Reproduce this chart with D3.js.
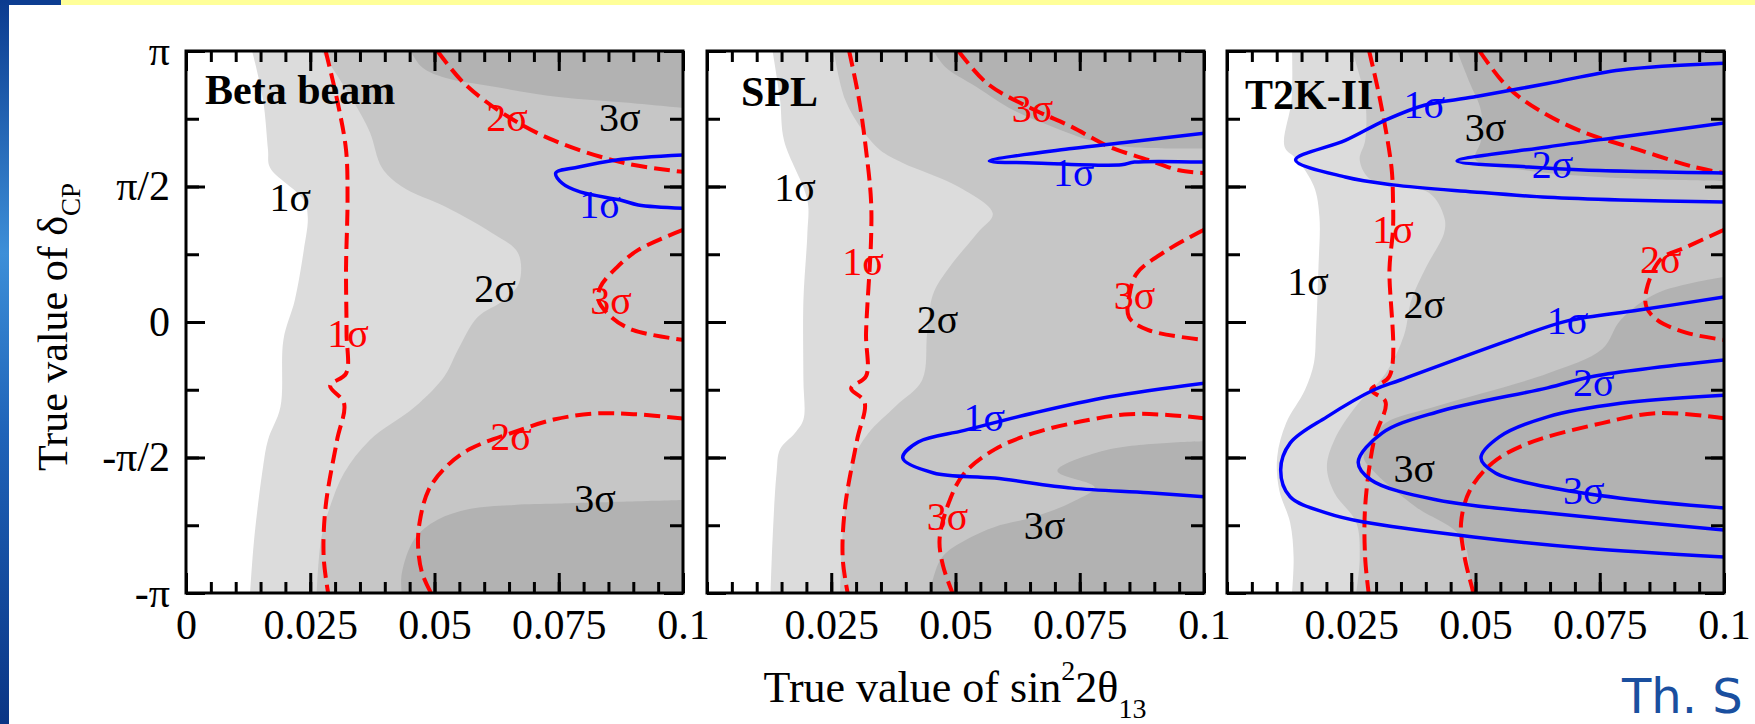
<!DOCTYPE html>
<html>
<head>
<meta charset="utf-8">
<script src="https://cdn.jsdelivr.net/npm/d3@7"></script>
<style>
  body { margin: 0; background: #fff; }
  svg { display: block; }
  text { font-family: "Liberation Serif", "Times New Roman", serif; }
</style>
</head>
<body>
<div id="chart"></div>
<script>
// ---- data (x = sin^2 2θ13, d = δCP / π) ----
const panelNames = ["Beta beam", "SPL", "T2K-II"];
const xTicks = [0, 0.025, 0.05, 0.075, 0.1];
const xTickLabels = ["0", "0.025", "0.05", "0.075", "0.1"];
const yTicks = [-1, -0.5, 0, 0.5, 1];
const yTickLabels = ["-π", "-π/2", "0", "π/2", "π"];

// Beta beam: shaded borders (top -> bottom)
const betaShade1 = [[0.0133,1],[0.0155,0.82],[0.0165,0.635],[0.0169,0.57],[0.0237,0.45],[0.0245,0.387],[0.0237,0.266],[0.0219,0.081],[0.0196,-0.066],[0.019,-0.314],[0.0165,-0.435],[0.0155,-0.535],[0.0137,-0.804],[0.0129,-1]];
const betaShade2 = [[0.0272,1],[0.0335,0.82],[0.037,0.70],[0.0394,0.57],[0.0434,0.5],[0.0523,0.424],[0.0614,0.33],[0.0668,0.255],[0.067,0.144],[0.064,0.081],[0.0587,0.018],[0.0548,-0.1],[0.052,-0.2],[0.046,-0.314],[0.037,-0.435],[0.0318,-0.557],[0.029,-0.68],[0.0272,-0.80],[0.0263,-1]];
const betaDarkTop = [[0.0452,1],[0.0475,0.94],[0.0523,0.90],[0.0614,0.87],[0.075,0.83],[0.0883,0.81],[0.1,0.79]];
const betaDarkBottom = [[0.1,-0.657],[0.075,-0.67],[0.066,-0.675],[0.057,-0.69],[0.0506,-0.73],[0.046,-0.80],[0.0434,-0.93],[0.0434,-1]];
const betaRed = [
  [[0.0281,1],[0.0304,0.82],[0.0322,0.635],[0.0325,0.45],[0.0322,0.2],[0.0323,-0.04],[0.0322,-0.19],[0.029,-0.235],[0.0318,-0.30],[0.0304,-0.435],[0.0281,-0.68],[0.0277,-0.867],[0.0286,-1]],
  [[0.0506,1],[0.056,0.88],[0.0646,0.76],[0.074,0.67],[0.0883,0.586],[0.1,0.554]],
  [[0.1,0.34],[0.091,0.266],[0.0866,0.2],[0.0834,0.13],[0.083,0.08],[0.0856,0.018],[0.09,-0.03],[0.1,-0.066]],
  [[0.1,-0.356],[0.09,-0.34],[0.082,-0.338],[0.074,-0.36],[0.0654,-0.41],[0.057,-0.47],[0.0523,-0.535],[0.0488,-0.62],[0.047,-0.74],[0.0467,-0.83],[0.0475,-0.926],[0.0493,-1]]
];
const betaBlue = [
  [[0.1,0.616],[0.0866,0.598],[0.079,0.572],[0.0744,0.55],[0.0757,0.512],[0.0793,0.48],[0.0874,0.45],[0.091,0.432],[0.1,0.42]]
];
const betaLabels = [
  ["1σ",0.021,0.46,"region"],["2σ",0.0622,0.125,"region"],["3σ",0.0873,0.755,"region"],["3σ",0.0823,-0.65,"region"],
  ["1σ",0.0326,-0.044,"red"],["2σ",0.0646,0.755,"red"],["3σ",0.0855,0.08,"red"],["2σ",0.0654,-0.424,"red"],
  ["1σ",0.0833,0.435,"blue"]
];

// SPL
const splShade1 = [[0.0132,1],[0.0147,0.82],[0.0155,0.67],[0.0202,0.45],[0.0202,0.33],[0.0194,0.08],[0.0194,-0.214],[0.0194,-0.36],[0.0177,-0.41],[0.0147,-0.47],[0.014,-0.557],[0.0132,-0.80],[0.0128,-1]];
const splShade2 = [[0.0255,1],[0.0278,0.82],[0.0316,0.70],[0.0348,0.635],[0.0394,0.587],[0.0505,0.5],[0.0575,0.40],[0.0545,0.33],[0.0487,0.2],[0.0455,0.103],[0.0443,-0.04],[0.0433,-0.214],[0.038,-0.31],[0.0325,-0.41],[0.0294,-0.51],[0.0278,-0.68],[0.027,-0.87],[0.0268,-1]];
const splDarkTop = [[0.0456,1],[0.048,0.94],[0.054,0.87],[0.0618,0.78],[0.0696,0.72],[0.0772,0.67],[0.0849,0.646],[0.1,0.64]];
const splDarkBottom = [[0.1,-0.44],[0.081,-0.47],[0.0705,-0.55],[0.078,-0.61],[0.074,-0.66],[0.0657,-0.72],[0.0579,-0.756],[0.0525,-0.80],[0.0472,-0.87],[0.0448,-1]];
const splRed = [
  [[0.0286,1],[0.0306,0.82],[0.032,0.635],[0.033,0.45],[0.033,0.3],[0.032,-0.04],[0.032,-0.2],[0.029,-0.245],[0.0317,-0.295],[0.0302,-0.435],[0.0278,-0.68],[0.0273,-0.87],[0.0283,-1]],
  [[0.0506,1],[0.0564,0.88],[0.0655,0.786],[0.0734,0.72],[0.081,0.646],[0.0888,0.598],[0.095,0.56],[0.1,0.55]],
  [[0.1,0.34],[0.0927,0.266],[0.0865,0.18],[0.085,0.1],[0.0849,0.018],[0.0888,-0.03],[0.1,-0.066]],
  [[0.1,-0.355],[0.0927,-0.343],[0.0849,-0.34],[0.0772,-0.36],[0.0657,-0.41],[0.0579,-0.47],[0.0518,-0.557],[0.049,-0.65],[0.0468,-0.80],[0.0475,-0.90],[0.0494,-1]]
];
const splBlue = [
  [[0.1,0.697],[0.0849,0.664],[0.0734,0.64],[0.0568,0.594],[0.0657,0.587],[0.0834,0.58],[0.086,0.59],[0.1,0.59]],
  [[0.1,-0.226],[0.081,-0.276],[0.0657,-0.336],[0.0518,-0.4],[0.0425,-0.443],[0.0394,-0.502],[0.0456,-0.557],[0.0579,-0.576],[0.0734,-0.613],[0.0888,-0.63],[0.1,-0.645]]
];
const splLabels = [
  ["1σ",0.0177,0.495,"region"],["2σ",0.0464,0.01,"region"],["3σ",0.0679,-0.75,"region"],
  ["3σ",0.0655,0.786,"red"],["1σ",0.0314,0.225,"red"],["3σ",0.086,0.096,"red"],["3σ",0.0484,-0.716,"red"],
  ["1σ",0.0738,0.553,"blue"],["1σ",0.0558,-0.354,"blue"]
];

// T2K-II
const t2kShade1 = [[0.0131,1],[0.013,0.82],[0.0116,0.646],[0.0141,0.6],[0.0175,0.5],[0.0186,0.387],[0.0184,0.2],[0.0179,-0.04],[0.0175,-0.15],[0.0157,-0.25],[0.0119,-0.373],[0.0101,-0.498],[0.0105,-0.62],[0.0127,-0.74],[0.0134,-0.867],[0.0131,-1]];
const t2kShade2 = [[0.0252,1],[0.0278,0.82],[0.0278,0.67],[0.0267,0.598],[0.029,0.524],[0.0407,0.476],[0.0437,0.387],[0.0437,0.33],[0.04,0.2],[0.0371,0.081],[0.0356,-0.05],[0.0319,-0.19],[0.026,-0.31],[0.0216,-0.435],[0.0201,-0.535],[0.0216,-0.63],[0.026,-0.74],[0.0267,-0.87],[0.026,-1]];
const t2kDarkTop = [[0.0463,1],[0.0489,0.88],[0.0511,0.78],[0.0511,0.67],[0.05,0.6],[0.06,0.56],[0.08,0.53],[0.1,0.52]];
const t2kDarkBottom = [[0.1,0.166],[0.0866,0.107],[0.0792,0.007],[0.0755,-0.1],[0.0645,-0.19],[0.0423,-0.31],[0.0319,-0.373],[0.029,-0.44],[0.0275,-0.5],[0.03,-0.56],[0.0378,-0.68],[0.0474,-0.80],[0.0489,-1]];
const t2kRed = [
  [[0.0286,1],[0.0308,0.82],[0.0331,0.57],[0.0334,0.45],[0.0334,0.343],[0.0327,0.2],[0.0327,-0.2],[0.029,-0.25],[0.0319,-0.295],[0.0296,-0.435],[0.0278,-0.68],[0.0278,-0.87],[0.0285,-1]],
  [[0.0508,1],[0.0563,0.87],[0.0629,0.78],[0.0718,0.70],[0.0829,0.635],[0.094,0.572],[0.1,0.55]],
  [[0.1,0.34],[0.0925,0.277],[0.0873,0.232],[0.0844,0.118],[0.0844,0.055],[0.0866,0.007],[0.0925,-0.04],[0.1,-0.066]],
  [[0.1,-0.355],[0.0866,-0.336],[0.0755,-0.373],[0.0607,-0.447],[0.0534,-0.52],[0.0489,-0.62],[0.0471,-0.74],[0.0478,-0.867],[0.0496,-1]]
];
const t2kBlue = [
  [[0.1,0.955],[0.0792,0.93],[0.0645,0.88],[0.0496,0.83],[0.0397,0.8],[0.0319,0.745],[0.0238,0.67],[0.0138,0.598],[0.0238,0.535],[0.0334,0.506],[0.0496,0.48],[0.0645,0.46],[0.0792,0.45],[0.1,0.443]],
  [[0.1,0.734],[0.0792,0.683],[0.0645,0.646],[0.0463,0.594],[0.0607,0.572],[0.0718,0.561],[0.1,0.55]],
  [[0.1,0.092],[0.0829,0.044],[0.0685,0.004],[0.057,-0.066],[0.0349,-0.214],[0.0296,-0.25],[0.0201,-0.35],[0.0127,-0.447],[0.0108,-0.546],[0.0127,-0.645],[0.0201,-0.705],[0.0275,-0.738],[0.0496,-0.793],[0.0718,-0.834],[0.1,-0.867]],
  [[0.1,-0.14],[0.0738,-0.2],[0.0645,-0.243],[0.0423,-0.332],[0.0312,-0.41],[0.0264,-0.517],[0.029,-0.583],[0.0423,-0.657],[0.0645,-0.705],[0.1,-0.768]],
  [[0.1,-0.27],[0.0792,-0.3],[0.0645,-0.35],[0.0548,-0.424],[0.0511,-0.502],[0.054,-0.557],[0.0645,-0.609],[0.0792,-0.65],[0.1,-0.686]]
];
const t2kLabels = [
  ["1σ",0.0163,0.148,"region"],["3σ",0.052,0.716,"region"],["2σ",0.0397,0.066,"region"],["3σ",0.0377,-0.54,"region"],
  ["1σ",0.0334,0.343,"red"],["2σ",0.0873,0.232,"red"],
  ["1σ",0.0397,0.804,"blue"],["2σ",0.0655,0.58,"blue"],["1σ",0.0685,0.004,"blue"],["2σ",0.0738,-0.225,"blue"],["3σ",0.0718,-0.62,"blue"]
];

// ---- layout ----
const width = 1755, height = 724;
const panelLeft = [186, 707, 1227], pw = 497, plotTop = 51, ph = 542;
const shadeColors = ["#dcdcdc", "#c6c6c6", "#b2b2b2"];
const labelColors = {region: "#000", red: "#ff0000", blue: "#0000ff"};

const svg = d3.select("#chart").append("svg")
    .attr("width", width)
    .attr("height", height);

// slide decoration
const defs = svg.append("defs");
const grad = defs.append("linearGradient").attr("id", "strip").attr("x1", 0).attr("y1", 0).attr("x2", 0).attr("y2", 1);
grad.append("stop").attr("offset", "0%").attr("stop-color", "#0b3b8f");
grad.append("stop").attr("offset", "35%").attr("stop-color", "#3d8fd8");
grad.append("stop").attr("offset", "60%").attr("stop-color", "#1f63b8");
grad.append("stop").attr("offset", "100%").attr("stop-color", "#0a3585");
svg.append("rect").attr("x", 61).attr("y", 0).attr("width", width - 61).attr("height", 5).attr("fill", "#ffff99");
svg.append("rect").attr("x", 0).attr("y", 0).attr("width", 61).attr("height", 5).attr("fill", "#0d3d91");
svg.append("rect").attr("x", 0).attr("y", 0).attr("width", 9).attr("height", height).attr("fill", "url(#strip)");

const panels = [
  {shade1: betaShade1, shade2: betaShade2, darkTop: betaDarkTop, darkBottom: betaDarkBottom, red: betaRed, blue: betaBlue, labels: betaLabels, titleDx: 19, titleY: 104},
  {shade1: splShade1, shade2: splShade2, darkTop: splDarkTop, darkBottom: splDarkBottom, red: splRed, blue: splBlue, labels: splLabels, titleDx: 34, titleY: 106},
  {shade1: t2kShade1, shade2: t2kShade2, darkTop: t2kDarkTop, darkBottom: t2kDarkBottom, red: t2kRed, blue: t2kBlue, labels: t2kLabels, titleDx: 18, titleY: 109}
];

panels.forEach((p, i) => {
    const x = d3.scaleLinear().domain([0, 0.1]).range([panelLeft[i], panelLeft[i] + pw]);
    const y = d3.scaleLinear().domain([-1, 1]).range([plotTop + ph, plotTop]);
    const line = d3.line().x(d => x(d[0])).y(d => y(d[1])).curve(d3.curveCatmullRom.alpha(0.5));
    const close = corners => corners.map(c => `L${x(c[0])},${y(c[1])}`).join("") + "Z";

    defs.append("clipPath").attr("id", "clip" + i)
        .append("rect").attr("x", x(0)).attr("y", y(1)).attr("width", pw).attr("height", ph);

    const g = svg.append("g").attr("clip-path", `url(#clip${i})`);
    g.append("rect").attr("x", x(0)).attr("y", y(1)).attr("width", pw).attr("height", ph).attr("fill", "#fff");

    // shaded regions
    g.append("path").attr("d", line(p.shade1) + close([[0.1, -1], [0.1, 1]])).attr("fill", shadeColors[0]);
    g.append("path").attr("d", line(p.shade2) + close([[0.1, -1], [0.1, 1]])).attr("fill", shadeColors[1]);
    g.append("path").attr("d", line(p.darkTop) + close([[0.1, 1]])).attr("fill", shadeColors[2]);
    g.append("path").attr("d", line(p.darkBottom) + close([[0.1, -1]])).attr("fill", shadeColors[2]);

    // contour lines
    g.selectAll(".red").data(p.red).join("path")
        .attr("class", "red")
        .attr("d", line)
        .attr("fill", "none")
        .attr("stroke", "#ff0000")
        .attr("stroke-width", 4)
        .attr("stroke-dasharray", "16,7");
    g.selectAll(".blue").data(p.blue).join("path")
        .attr("class", "blue")
        .attr("d", line)
        .attr("fill", "none")
        .attr("stroke", "#0000ff")
        .attr("stroke-width", 3.5);

    // labels
    g.selectAll(".lab").data(p.labels).join("text")
        .attr("class", "lab")
        .attr("x", d => x(d[1]))
        .attr("y", d => y(d[2]))
        .attr("text-anchor", "middle")
        .attr("dominant-baseline", "central")
        .attr("font-size", 40)
        .attr("fill", d => labelColors[d[3]])
        .text(d => d[0]);

    // panel title
    svg.append("text")
        .attr("x", x(0) + p.titleDx)
        .attr("y", p.titleY)
        .attr("font-size", 42)
        .attr("font-weight", "bold")
        .text(panelNames[i]);

    // axes: ticks drawn inwards on all four sides
    const minorX = d3.range(0, 21).map(k => k * 0.005);
    const minorY = d3.range(0, 9).map(k => -1 + k * 0.25);
    const styleAxis = a => {
        a.select(".domain").remove();
        a.selectAll("line").attr("stroke-width", 3);
        a.attr("font-family", null).attr("font-size", 42);
    };
    svg.append("g").attr("transform", `translate(0,${y(-1)})`)
        .call(d3.axisBottom(x).tickValues(minorX).tickSize(-11).tickFormat("")).call(styleAxis);
    svg.append("g").attr("transform", `translate(0,${y(1)})`)
        .call(d3.axisTop(x).tickValues(minorX).tickSize(-11).tickFormat("")).call(styleAxis);
    svg.append("g").attr("transform", `translate(0,${y(-1)})`)
        .call(d3.axisBottom(x).tickValues(i === 0 ? xTicks : xTicks.slice(1)).tickSize(-20).tickPadding(16)
            .tickFormat(d => xTickLabels[xTicks.indexOf(d)])).call(styleAxis);
    svg.append("g").attr("transform", `translate(0,${y(1)})`)
        .call(d3.axisTop(x).tickValues(xTicks).tickSize(-20).tickFormat("")).call(styleAxis);
    svg.append("g").attr("transform", `translate(${x(0)},0)`)
        .call(d3.axisLeft(y).tickValues(minorY).tickSize(-13).tickFormat("")).call(styleAxis);
    svg.append("g").attr("transform", `translate(${x(0.1)},0)`)
        .call(d3.axisRight(y).tickValues(minorY).tickSize(-13).tickFormat("")).call(styleAxis);
    svg.append("g").attr("transform", `translate(${x(0)},0)`)
        .call(d3.axisLeft(y).tickValues(yTicks).tickSize(-19).tickPadding(16)
            .tickFormat(d => i === 0 ? yTickLabels[yTicks.indexOf(d)] : "")).call(styleAxis);
    svg.append("g").attr("transform", `translate(${x(0.1)},0)`)
        .call(d3.axisRight(y).tickValues(yTicks).tickSize(-19).tickFormat("")).call(styleAxis);

    // frame
    svg.append("rect")
        .attr("x", x(0)).attr("y", y(1)).attr("width", pw).attr("height", ph)
        .attr("fill", "none").attr("stroke", "#000").attr("stroke-width", 3);
});

// axis titles
const xt = svg.append("text").attr("x", 955).attr("y", 702).attr("text-anchor", "middle").attr("font-size", 44);
xt.append("tspan").text("True value of sin");
xt.append("tspan").attr("dy", -22).attr("font-size", 28).text("2");
xt.append("tspan").attr("dy", 22).text("2θ");
xt.append("tspan").attr("dy", 16).attr("font-size", 28).text("13");

const yt = svg.append("text").attr("transform", "translate(67,327) rotate(-90)").attr("text-anchor", "middle").attr("font-size", 42);
yt.append("tspan").text("True value of δ");
yt.append("tspan").attr("dy", 13).attr("font-size", 27).text("CP");

// author credit
svg.append("text")
    .attr("x", 1622).attr("y", 713)
    .style("font-family", "'DejaVu Sans', sans-serif")
    .attr("font-size", 48)
    .attr("fill", "#1a4f9f")
    .text("Th. S");
</script>
</body>
</html>
